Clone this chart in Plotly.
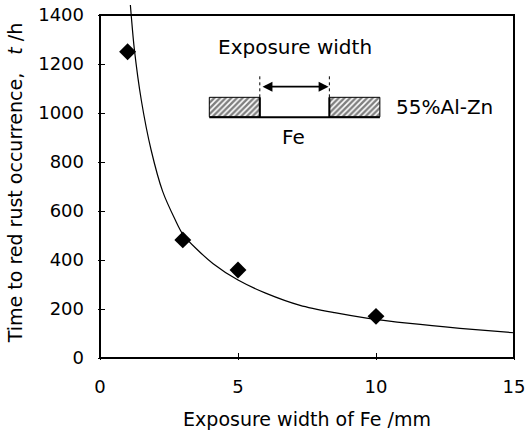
import plotly.graph_objects as go

# measured data points
width_mm = [1, 3, 5, 10]
time_h = [1250, 482, 359, 170]

# fitted curve
curve_x = [1.10, 1.13, 1.24, 1.5, 1.85, 2.27, 2.72, 3.0, 3.5, 4.1, 5.0, 6.0, 7.25, 8.5, 9.66, 11.23, 13.04, 15]
curve_y = [1441, 1400, 1265, 1050, 850, 680, 565, 505, 445, 385, 318, 265, 215, 185, 163, 141, 121, 103]

x_ticks = [0, 5, 10, 15]
y_ticks = [0, 200, 400, 600, 800, 1000, 1200, 1400]

FONT = "DejaVu Sans"
PAD = 2.0                  # px of plot area kept outside the frame (so frame is not clipped)
FRAME_W, FRAME_H = 414.0, 343.0
TOP_EXTRA = 10.0           # curve pokes above the frame
X_PAD = 15 * PAD / FRAME_W
Y_PAD_LO = 1400 * PAD / FRAME_H
Y_TOP = 1400 * (FRAME_H + TOP_EXTRA) / FRAME_H

fig = go.Figure()
fig.add_trace(go.Scatter(x=curve_x, y=curve_y, mode="lines",
                         line=dict(color="black", width=1.2, shape="spline", smoothing=0.8),
                         showlegend=False, hoverinfo="skip"))
fig.add_trace(go.Scatter(x=width_mm, y=time_h, mode="markers",
                         marker=dict(symbol="diamond", size=13, color="black"), showlegend=False))

# hatched blocks of the inset sketch on an overlay axis (0..1 = framed area)
for x0, x1 in [(0.264, 0.386), (0.554, 0.676)]:
    fig.add_trace(go.Scatter(x=[x0, x1, x1, x0, x0], y=[0.703, 0.703, 0.760, 0.760, 0.703],
                             xaxis="x2", yaxis="y2", mode="lines", fill="toself",
                             fillcolor="white",
                             fillpattern=dict(shape="/", size=4, solidity=0.6, fgcolor="black", bgcolor="white"),
                             line=dict(color="black", width=1), showlegend=False, hoverinfo="skip"))

# frame box on the overlay axis
fig.add_trace(go.Scatter(x=[0, 1, 1, 0, 0], y=[0, 0, 1, 1, 0], xaxis="x2", yaxis="y2", mode="lines",
                         line=dict(color="black", width=2), showlegend=False, hoverinfo="skip"))

fig.update_layout(
    width=526, height=430,
    margin=dict(l=100 - PAD, r=12 - PAD, t=5, b=72 - PAD),
    paper_bgcolor="white", plot_bgcolor="white",
    font=dict(family=FONT, size=18, color="black"),
    xaxis=dict(range=[-X_PAD, 15 + X_PAD], tickvals=x_ticks, showline=False, automargin=False,
               ticks="inside", ticklen=7, tickwidth=1, tickcolor="black", showgrid=False, zeroline=False,
               tickfont=dict(size=18), ticklabelstandoff=14,
               title=dict(text="Exposure width of Fe /mm", standoff=17, font=dict(size=19))),
    yaxis=dict(range=[-Y_PAD_LO, Y_TOP], tickvals=y_ticks, showline=False, automargin=False,
               ticks="inside", ticklen=7, tickwidth=1, tickcolor="black", showgrid=False, zeroline=False,
               tickfont=dict(size=18), ticklabelstandoff=13,
               title=dict(text="Time to red rust occurrence,   <i>t</i> /h", standoff=10, font=dict(size=19))),
    xaxis2=dict(range=[-PAD / FRAME_W, 1 + PAD / FRAME_W], overlaying="x", visible=False, fixedrange=True),
    yaxis2=dict(range=[-PAD / FRAME_H, (FRAME_H + TOP_EXTRA) / FRAME_H], overlaying="y", visible=False,
                fixedrange=True),
)

# inset sketch decorations
fig.add_shape(type="line", xref="x2", yref="y2", x0=0.264, x1=0.676, y0=0.702, y1=0.702,
              line=dict(color="black", width=2))
for xv in [0.386, 0.554]:
    fig.add_shape(type="line", xref="x2", yref="y2", x0=xv, x1=xv, y0=0.760, y1=0.825,
                  line=dict(color="black", width=1, dash="dot"))
    fig.add_shape(type="line", xref="x2", yref="y2", x0=xv, x1=xv, y0=0.702, y1=0.760,
                  line=dict(color="black", width=2))
fig.add_annotation(xref="x2", yref="y2", x=0.552, y=0.791, ax=0.389, ay=0.791,
                   axref="x2", ayref="y2", showarrow=True, arrowhead=2, arrowsize=1.1,
                   arrowwidth=1.8, arrowcolor="black", arrowside="end+start", text="")
fig.add_annotation(xref="x2", yref="y2", x=0.471, y=0.908, text="Exposure width", showarrow=False,
                   font=dict(size=20))
fig.add_annotation(xref="x2", yref="y2", x=0.710, y=0.731, xanchor="left", text="55%Al-Zn",
                   showarrow=False, font=dict(size=20))
fig.add_annotation(xref="x2", yref="y2", x=0.467, y=0.645, text="Fe", showarrow=False,
                   font=dict(size=20))

fig.write_html("out.html", config={"displayModeBar": False},
               post_script="document.body.style.margin='0';")
